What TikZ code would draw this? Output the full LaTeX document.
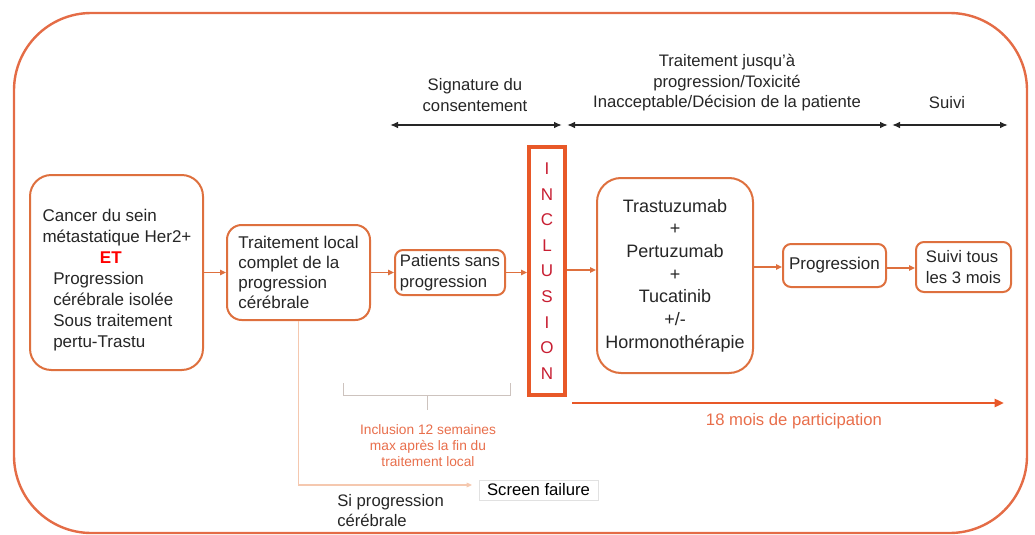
\documentclass[tikz,border=0pt]{standalone}
\usepackage{fontspec}
\setmainfont{Liberation Sans}
\usetikzlibrary{arrows.meta}
\definecolor{outerc}{RGB}{228,108,70}
\definecolor{boxc}{RGB}{222,112,62}
\definecolor{inclc}{RGB}{232,88,40}
\definecolor{letc}{RGB}{200,30,50}
\definecolor{txt}{RGB}{38,38,38}
\definecolor{peach}{RGB}{245,200,175}
\definecolor{smallc}{RGB}{232,110,75}
\definecolor{brk}{RGB}{205,195,190}
\definecolor{faint}{RGB}{225,225,225}
\tikzset{
  fbox/.style={draw=boxc, line width=1.5pt, fill=white, inner sep=0pt, text=txt,
    font=\fontsize{12.75}{15.75}\selectfont},
  flow/.style={draw=boxc, line width=1pt, -{Triangle[length=4.5pt,width=4pt]}},
  span/.style={draw=txt, line width=1.5pt, {Latex[length=6pt,width=5pt]}-{Latex[length=6pt,width=5pt]}},
  lbl/.style={text=txt, align=center, font=\fontsize{12.5}{15.4}\selectfont, inner sep=0pt},
}
\begin{document}
\begin{tikzpicture}[x=0.75pt,y=-0.75pt]
\useasboundingbox (0,0) rectangle (1035,535);
% outer frame
\draw[draw=outerc, line width=1.8pt, rounded corners=58pt] (14,13) rectangle (1027,533);

% boxes
\node[fbox, rounded corners=16pt, minimum width=129.75pt, minimum height=146.25pt] (box1) at (116.5,272.5) {};
\node[text=txt, align=left, inner sep=0pt, font=\fontsize{12.75}{15.75}\selectfont] (box1t) at (117,280)
  {Cancer du sein\\métastatique Her2+\\\hspace*{43pt}\textcolor{red}{\textbf{ET}}\\\hspace*{8pt}Progression\\\hspace*{8pt}cérébrale isolée\\\hspace*{8pt}Sous traitement\\\hspace*{8pt}pertu-Trastu};
\node[fbox, rounded corners=11pt, minimum width=107.25pt, minimum height=71.25pt, align=left, font=\fontsize{12.75}{15}\selectfont] (box2) at (298.5,272.5)
  {Traitement local\\complet de la\\progression\\cérébrale};
\node[fbox, rounded corners=6pt, minimum width=82.5pt, minimum height=33.75pt, align=left, font=\fontsize{12.5}{16}\selectfont] (box3) at (450,272.5)
  {Patients sans\\progression};
\node[draw=inclc, line width=3pt, fill=white, inner sep=0pt, minimum width=27pt, minimum height=186pt, text=letc, align=center,
  font=\fontsize{12.75}{19.2}\selectfont] (incl) at (547,271)
  {I\\N\\C\\L\\U\\S\\I\\O\\N};
\node[fbox, rounded corners=18pt, minimum width=117pt, minimum height=146.25pt, align=center, font=\fontsize{13.5}{17}\selectfont] (treat) at (675,275.5)
  {Trastuzumab\\+\\Pertuzumab\\+\\Tucatinib\\+/-\\Hormonothérapie};
\node[fbox, rounded corners=6pt, minimum width=77.25pt, minimum height=32.25pt] (prog) at (834.5,265.5) {Progression};
\node[fbox, rounded corners=6pt, minimum width=71.25pt, minimum height=37.5pt, align=left, font=\fontsize{12.5}{15.5}\selectfont] (suivi) at (963.5,267)
  {Suivi tous\\les 3 mois};

% flow arrows
\draw[flow] (box1.east |- box2.west) -- (box2.west);
\draw[flow] (box2.east) -- (box3.west);
\draw[flow] (box3.east) -- (incl.west |- box3.east);
\draw[flow] (incl.east |- 0,270) -- (treat.west |- 0,270);
\draw[flow] (treat.east |- 0,267) -- (prog.west |- 0,267);
\draw[flow] (prog.east |- 0,268) -- (suivi.west |- 0,268);

% top spans
\coordinate (s1a) at (390,125); \coordinate (s1b) at (562,125);
\coordinate (s2a) at (567,125); \coordinate (s2b) at (888,125);
\coordinate (s3a) at (892,125); \coordinate (s3b) at (1008,125);
\draw[span] (s1a) -- (s1b);
\draw[span] (s2a) -- (s2b);
\draw[span] (s3a) -- (s3b);
\node[lbl] (l1) at (475,95) {Signature du\\consentement};
\node[lbl] (l2) at (727,83) {Traitement jusqu'à\\progression/Toxicité\\Inacceptable/Décision de la patiente};
\node[lbl] (l3) at (947,103) {Suivi};

% participation arrow
\coordinate (pa) at (572,403); \coordinate (pb) at (1004,403);
\draw[draw=inclc, line width=2.2pt, -{Triangle[length=7pt,width=6pt]}] (pa) -- (pb);
\node[text=smallc, font=\fontsize{12.5}{15}\selectfont, inner sep=0pt] (part) at (794,421) {18 mois de participation};

% bracket
\coordinate (b1) at (343,383); \coordinate (b2) at (510,383); \coordinate (bm) at (427,395);
\draw[draw=brk, line width=0.6pt] (b1) -- ++(0,12) -- (510,395) -- (b2);
\draw[draw=brk, line width=0.6pt] (bm) -- ++(0,15);
\node[text=smallc, align=center, inner sep=0pt, font=\fontsize{10.3}{12}\selectfont] (incnote) at (428,446)
  {Inclusion 12 semaines\\max après la fin du\\traitement local};

% screen failure path
\node[draw=faint, line width=0.6pt, inner sep=0pt, minimum width=89.25pt, minimum height=15pt, text=black,
  font=\fontsize{12.5}{15}\selectfont] (screen) at (538.5,490) {Screen failure};
\coordinate (sf) at (472,485);
\draw[draw=peach, line width=0.8pt, -{Triangle[length=4pt,width=3.5pt]}] (box2.south) |- (sf);
\node[text=txt, align=left, inner sep=0pt, anchor=north west, font=\fontsize{12.5}{15}\selectfont] (sip) at (337,494)
  {Si progression\\cérébrale};
\end{tikzpicture}
\end{document}
